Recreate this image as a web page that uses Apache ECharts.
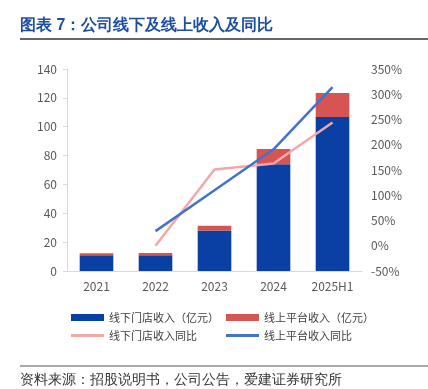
<!DOCTYPE html>
<html><head><meta charset="utf-8">
<script src="https://cdn.jsdelivr.net/npm/echarts@6/dist/echarts.min.js"></script>
<style>html,body{margin:0;padding:0;background:#fff}#c{width:428px;height:389px}</style>
</head><body><div id="c"></div>
<script>
const categories = ['2021','2022','2023','2024','2025H1'];
const offlineRevenue = [11.0, 11.0, 28.0, 74.0, 106.7];
const onlineRevenue = [1.3, 1.4, 3.4, 10.5, 16.6];
const offlineYoY = [null, 0, 151, 163, 244];
const onlineYoY = [null, 29, 110, 191, 314];
const leftTicks = {min:0, max:140, interval:20};
const rightTicks = {min:-50, max:350, interval:50};

const names = ['线下门店收入（亿元）','线上平台收入（亿元）','线下门店收入同比','线上平台收入同比'];
const cBlue = '#0a40a3', cRed = '#d65451', cPink = '#f4a7a8', cLine = '#4472c9';
const font = '"Noto Sans CJK SC", sans-serif';
const chart = echarts.init(document.getElementById('c'));
function lg(name, left, top, h){
  return {data:[name], left:left, top:top, icon:'rect', itemWidth:33, itemHeight:h, itemGap:0,
    textStyle:{fontSize:11, color:'#404040', fontFamily:font}, padding:0, selectedMode:false};
}
chart.setOption({
  animation:false,
  textStyle:{fontFamily:font},
  graphic:[
    {type:'text', left:20, top:18, style:{text:'图表 7：公司线下及线上收入及同比', fontSize:16, fontWeight:'bold', fill:'#1d4f9e', font:'bold 16px "Noto Sans CJK SC"'}},
    {type:'line', shape:{x1:20,y1:39,x2:428,y2:39}, style:{stroke:'#333', lineWidth:1.5}},
    {type:'line', shape:{x1:20,y1:366,x2:428,y2:366}, style:{stroke:'#555', lineWidth:1}},
    {type:'text', left:20, top:373, style:{text:'资料来源：招股说明书，公司公告，爱建证券研究所', fontSize:14, fill:'#333', font:'14px "Noto Sans CJK SC"'}}
  ],
  legend:[lg(names[0],71,312,7), lg(names[1],226,312,7), lg(names[2],71,330,3), lg(names[3],226,330,3)],
  grid:{left:67, right:66, top:69, height:202},
  xAxis:{type:'category', data:categories,
    axisLine:{lineStyle:{color:'#d9d9d9'}}, axisTick:{show:false},
    axisLabel:{color:'#595959', fontSize:12, margin:9}},
  yAxis:[
    {type:'value', min:leftTicks.min, max:leftTicks.max, interval:leftTicks.interval,
     splitLine:{show:false}, axisLine:{show:true, lineStyle:{color:'#d9d9d9'}},
     axisTick:{show:true, length:4, lineStyle:{color:'#d9d9d9'}},
     axisLabel:{color:'#595959', fontSize:12, margin:10}},
    {type:'value', min:rightTicks.min, max:rightTicks.max, interval:rightTicks.interval,
     splitLine:{show:false}, axisLine:{show:false}, axisTick:{show:false},
     axisLabel:{color:'#595959', fontSize:12, margin:9, formatter:'{value}%'}}
  ],
  series:[
    {name:names[0], type:'bar', stack:'r', data:offlineRevenue, barWidth:'57%', itemStyle:{color:cBlue}},
    {name:names[1], type:'bar', stack:'r', data:onlineRevenue, barWidth:'57%', itemStyle:{color:cRed}},
    {name:names[2], type:'line', yAxisIndex:1, data:offlineYoY, symbol:'none', lineStyle:{color:cPink, width:2.5}, itemStyle:{color:cPink}},
    {name:names[3], type:'line', yAxisIndex:1, data:onlineYoY, symbol:'none', lineStyle:{color:cLine, width:2.5}, itemStyle:{color:cLine}}
  ]
});
</script></body></html>
